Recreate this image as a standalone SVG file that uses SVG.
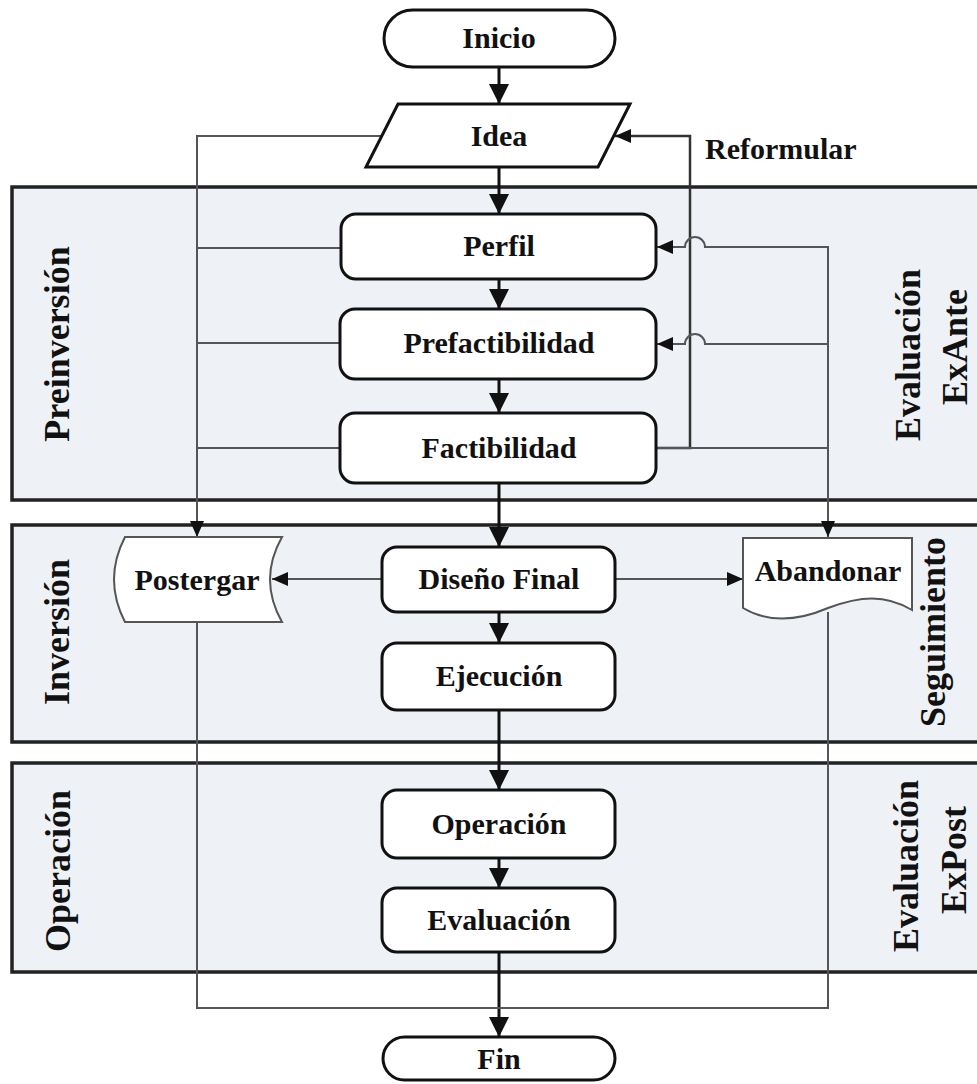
<svg xmlns="http://www.w3.org/2000/svg" width="977" height="1084" viewBox="0 0 977 1084">
<defs>
<style>
.band{fill:#eef1f6;stroke:#222;stroke-width:3.5}
.node{fill:#fff;stroke:#111;stroke-width:3}
.thinnode{fill:#fff;stroke:#555;stroke-width:2}
.main{fill:none;stroke:#111;stroke-width:3}
.thin{fill:none;stroke:#555;stroke-width:2}
.dark{fill:none;stroke:#333;stroke-width:2.5}
.t{font-family:"Liberation Serif","Times New Roman",serif;font-weight:bold;font-size:30px;fill:#111;text-anchor:middle}
.side{font-family:"Liberation Serif","Times New Roman",serif;font-weight:bold;font-size:36px;fill:#111;text-anchor:middle;dominant-baseline:central}
</style>
<marker id="big" markerUnits="userSpaceOnUse" markerWidth="20" markerHeight="20" refX="20" refY="10" orient="auto">
<path d="M0,0 L20,10 L0,20 z" fill="#111"/>
</marker>
<marker id="small" markerUnits="userSpaceOnUse" markerWidth="16" markerHeight="14" refX="16" refY="7" orient="auto">
<path d="M0,0 L16,7 L0,14 z" fill="#111"/>
</marker>
</defs>
<rect width="977" height="1084" fill="#fff"/>
<g id="bands">
<rect class="band" x="12" y="187" width="980" height="313"/>
<rect class="band" x="12" y="525" width="980" height="217"/>
<rect class="band" x="12" y="763" width="980" height="209"/>
</g>
<g id="band-labels">
<text class="side" transform="translate(57,344) rotate(-90)">Preinversión</text>
<text class="side" transform="translate(57,632) rotate(-90)">Inversión</text>
<text class="side" transform="translate(58,871) rotate(-90)">Operación</text>
<text class="side" transform="translate(908,355) rotate(-90)">Evaluación</text>
<text class="side" transform="translate(955,347) rotate(-90)">ExAnte</text>
<text class="side" transform="translate(933,632) rotate(-90)">Seguimiento</text>
<text class="side" transform="translate(906,866) rotate(-90)">Evaluación</text>
<text class="side" transform="translate(954,860) rotate(-90)">ExPost</text>
</g>
<g id="connectors">
<line class="main" x1="499" y1="67" x2="499" y2="104" marker-end="url(#big)"/>
<line class="main" x1="499" y1="167" x2="499" y2="214" marker-end="url(#big)"/>
<line class="main" x1="499" y1="279" x2="499" y2="309" marker-end="url(#big)"/>
<line class="main" x1="499" y1="379" x2="499" y2="413" marker-end="url(#big)"/>
<line class="main" x1="499" y1="483" x2="499" y2="547" marker-end="url(#big)"/>
<line class="main" x1="499" y1="612" x2="499" y2="643" marker-end="url(#big)"/>
<line class="main" x1="499" y1="710" x2="499" y2="790" marker-end="url(#big)"/>
<line class="main" x1="499" y1="858" x2="499" y2="888" marker-end="url(#big)"/>
<line class="main" x1="499" y1="952" x2="499" y2="1037" marker-end="url(#big)"/>
<path class="thin" d="M382,136 H197 V537" marker-end="url(#small)"/>
<path class="thin" d="M341,248 H197"/>
<path class="thin" d="M340,343 H197"/>
<path class="thin" d="M340,448 H197"/>
<path class="thin" d="M197,622 V1008 H828 V612"/>
<path class="dark" d="M656,448 H690 V136 H615" marker-end="url(#small)"/>
<path class="thin" d="M656,448 H828"/>
<path class="thin" d="M828,537 V247 H705 A10,10 0 0 0 685,247 H657" marker-end="url(#small)"/>
<path class="thin" d="M828,344 H705 A10,10 0 0 0 685,344 H657" marker-end="url(#small)"/>
<path class="thin" d="M382,579 H272" marker-end="url(#small)"/>
<path class="thin" d="M615,579 H743" marker-end="url(#small)"/>
<path class="thin" d="M828,247 V537" marker-end="url(#small)"/>
</g>
<g id="inicio">
<rect class="node" x="384" y="10" width="231" height="57" rx="28.5"/>
<text class="t" x="499" y="48">Inicio</text>
</g>
<g id="idea">
<polygon class="node" points="398,104 630,104 598,167 366,167"/>
<text class="t" x="499" y="146">Idea</text>
</g>
<text class="t" x="705" y="159" style="text-anchor:start">Reformular</text>
<g id="perfil">
<rect class="node" x="341" y="214" width="315" height="65" rx="15"/>
<text class="t" x="499" y="256">Perfil</text>
</g>
<g id="prefactibilidad">
<rect class="node" x="340" y="309" width="316" height="70" rx="15"/>
<text class="t" x="499" y="353">Prefactibilidad</text>
</g>
<g id="factibilidad">
<rect class="node" x="340" y="413" width="316" height="70" rx="15"/>
<text class="t" x="499" y="458">Factibilidad</text>
</g>
<g id="postergar">
<path class="thinnode" d="M125,537 H282 Q258,579.5 282,622 H125 Q103,579.5 125,537 Z"/>
<text class="t" x="197" y="590">Postergar</text>
</g>
<g id="disenofinal">
<rect class="node" x="382" y="547" width="233" height="65" rx="15"/>
<text class="t" x="499" y="589">Diseño Final</text>
</g>
<g id="abandonar">
<path class="thinnode" d="M743,538 H912 V610 C885,594 860,596 828,608 C800,620 770,624 743,608 Z"/>
<text class="t" x="828" y="581">Abandonar</text>
</g>
<g id="ejecucion">
<rect class="node" x="382" y="643" width="233" height="67" rx="15"/>
<text class="t" x="499" y="686">Ejecución</text>
</g>
<g id="operacion">
<rect class="node" x="382" y="790" width="233" height="68" rx="15"/>
<text class="t" x="499" y="834">Operación</text>
</g>
<g id="evaluacion">
<rect class="node" x="382" y="888" width="233" height="64" rx="15"/>
<text class="t" x="499" y="930">Evaluación</text>
</g>
<g id="fin">
<rect class="node" x="383" y="1037" width="232" height="43" rx="21.5"/>
<text class="t" x="499" y="1069">Fin</text>
</g>
</svg>
